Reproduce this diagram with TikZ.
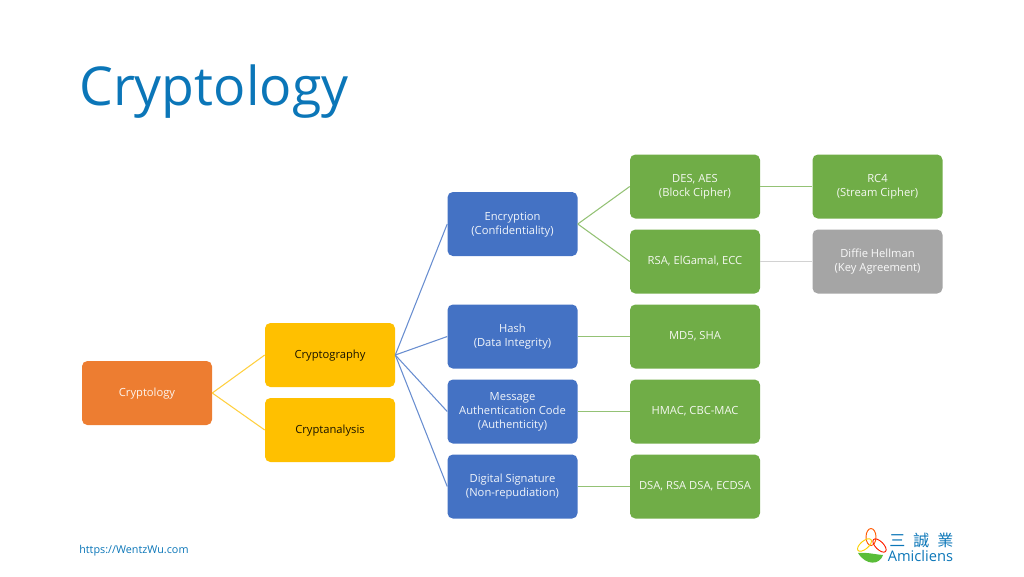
\documentclass[tikz,border=0pt]{standalone}
\usepackage{fontspec}
\setmainfont{Open Sans}
\newfontfamily\cjkfont{Noto Sans CJK TC}
\definecolor{titleblue}{HTML}{0B76B8}
\definecolor{rootorange}{HTML}{ED7D31}
\definecolor{branchyellow}{HTML}{FFC000}
\definecolor{goalblue}{HTML}{4472C4}
\definecolor{algogreen}{HTML}{70AD47}
\definecolor{othergray}{HTML}{A5A5A5}
\begin{document}
\begin{tikzpicture}[x=0.75pt,y=-0.75pt,font=\fontsize{8.4pt}{10.5pt}\selectfont,
  bx/.style={rounded corners=4pt,minimum width=97.5pt,minimum height=48pt,align=center,inner sep=1pt,text depth=1.2pt},
  root/.style={bx,fill=rootorange,text=white!92!rootorange},
  branch/.style={bx,fill=branchyellow,text=black!90!branchyellow},
  goal/.style={bx,fill=goalblue,text=white!92!goalblue},
  algo/.style={bx,fill=algogreen,text=white!92!algogreen},
  other/.style={bx,fill=othergray,text=white!92!othergray},
  lnk/.style={line width=0.8pt}]
  \useasboundingbox (0,0) rectangle (1024,576);
  \node[anchor=base west,inner sep=0pt,text=titleblue,font=\fontsize{40.2pt}{46pt}\selectfont] (title) at (79,105){Cryptology};
  \node[root] (crypt) at (147,393){Cryptology};
  \node[branch] (graphy) at (330,355){Cryptography};
  \node[branch] (analysis) at (330,430){Cryptanalysis};
  \node[goal] (enc) at (512.5,224){Encryption\\(Confidentiality)};
  \node[goal] (hash) at (512.5,336.5){Hash\\(Data Integrity)};
  \node[goal] (mac) at (512.5,411.5){Message\\Authentication Code\\(Authenticity)};
  \node[goal] (sig) at (512.5,486.5){Digital Signature\\(Non-repudiation)};
  \node[algo] (block) at (695,186.5){DES, AES\\(Block Cipher)};
  \node[algo] (pub) at (695,261.5){RSA, ElGamal, ECC};
  \node[algo] (md) at (695,336.5){MD5, SHA};
  \node[algo] (hmac) at (695,411.5){HMAC, CBC-MAC};
  \node[algo] (dsa) at (695,486.5){DSA, RSA DSA, ECDSA};
  \node[algo] (stream) at (877.5,186.5){RC4\\(Stream Cipher)};
  \node[other] (dh) at (877.5,261.5){Diffie Hellman\\(Key Agreement)};
  \draw[lnk,branchyellow!75] (crypt.east) -- (graphy.west);
  \draw[lnk,branchyellow!75] (crypt.east) -- (analysis.west);
  \foreach \t in {enc,hash,mac,sig}
    \draw[lnk,goalblue!80] (graphy.east) -- (\t.west);
  \draw[lnk,algogreen!75] (enc.east) -- (block.west);
  \draw[lnk,algogreen!75] (enc.east) -- (pub.west);
  \draw[lnk,algogreen!75] (hash.east) -- (md.west);
  \draw[lnk,algogreen!75] (mac.east) -- (hmac.west);
  \draw[lnk,algogreen!75] (sig.east) -- (dsa.west);
  \draw[lnk,algogreen!75] (block.east) -- (stream.west);
  \draw[lnk,othergray!50] (pub.east) -- (dh.west);
  \node[anchor=base west,inner sep=0pt,text=titleblue,font=\fontsize{8.1pt}{9pt}\selectfont] (url) at (79,553.5){https://WentzWu.com};
  % logo
  \node[anchor=base west,inner sep=0pt,text=titleblue,font=\fontsize{12pt}{13pt}\cjkfont] (logocjk) at (889,546.5){三\hspace{6pt}誠\hspace{6pt}業};
  \node[anchor=base west,inner sep=0pt,text=titleblue,font=\fontsize{11pt}{12pt}\selectfont] (logoname) at (887.5,561.5){Amicliens};
  \draw[orange!70!red,line width=0.7pt] (871,537) ellipse (5 and 8.5);
  \draw[yellow!70!orange,line width=0.7pt,rotate around={-50:(864.5,545)}] (864.5,545) ellipse (4 and 8.5);
  \draw[red!75!orange,line width=0.7pt,rotate around={45:(879.5,545.5)}] (879.5,545.5) ellipse (4 and 8.5);
  \fill[algogreen!80!green] (858,553) .. controls (866,552) and (872,554) .. (883,555) .. controls (880,565) and (866,566) .. (858,553);
\end{tikzpicture}
\end{document}
